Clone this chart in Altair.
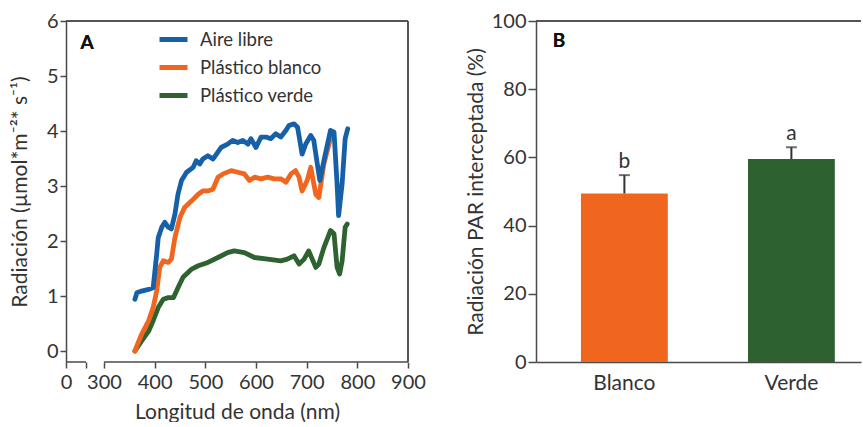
import altair as alt
import pandas as pd

FONT = "Lato"
TXT = "#333333"
AX = "#4a4a4a"

# ---------------- Panel A data ----------------
series_names = ["Aire libre", "Plástico blanco", "Plástico verde"]
series_colors = ["#1660a8", "#f0661f", "#2e6230"]

wl_aire = [361, 365, 374, 388, 397, 404, 407, 414, 420, 427, 433, 440, 446, 453, 463,
           476, 482, 489, 495, 505, 515, 522, 531, 544, 554, 564, 574, 584, 590, 600,
           610, 620, 629, 639, 649, 659, 665, 675, 682, 691, 698, 708, 714, 721, 726,
           734, 747, 754, 760, 763, 770, 776, 781]
rad_aire = [0.94, 1.06, 1.09, 1.12, 1.15, 1.76, 2.06, 2.25, 2.34, 2.25, 2.22, 2.49, 2.85, 3.10, 3.25,
            3.34, 3.46, 3.40, 3.49, 3.55, 3.49, 3.58, 3.70, 3.76, 3.83, 3.79, 3.83, 3.76, 3.86, 3.70,
            3.89, 3.89, 3.86, 3.95, 3.89, 4.01, 4.10, 4.13, 4.07, 3.58, 3.76, 3.92, 3.83, 3.40, 3.10,
            3.46, 4.01, 3.98, 3.04, 2.46, 3.04, 3.86, 4.04]

wl_blanco = [361, 374, 388, 397, 404, 410, 417, 427, 433, 440, 450, 459, 473, 486, 495,
             505, 515, 525, 535, 551, 564, 577, 587, 597, 610, 623, 636, 649, 659, 669,
             678, 685, 691, 701, 708, 718, 724, 734, 748]
rad_blanco = [0.00, 0.30, 0.55, 0.79, 1.09, 1.52, 1.64, 1.61, 1.67, 2.06, 2.43, 2.61, 2.73, 2.85, 2.91,
              2.91, 2.94, 3.16, 3.22, 3.28, 3.25, 3.22, 3.10, 3.16, 3.13, 3.16, 3.13, 3.13, 3.07, 3.22,
              3.28, 3.16, 2.91, 3.10, 3.34, 2.85, 2.79, 3.40, 3.90]

wl_verde = [361, 374, 388, 397, 407, 417, 427, 437, 446, 456, 473, 486, 505, 525, 544,
            557, 577, 597, 623, 649, 662, 675, 685, 695, 704, 718, 724, 734, 747, 754,
            760, 765, 770, 776, 780]
rad_verde = [0.00, 0.18, 0.36, 0.55, 0.79, 0.94, 0.97, 0.97, 1.15, 1.34, 1.49, 1.55, 1.61, 1.70, 1.79,
             1.82, 1.79, 1.70, 1.67, 1.64, 1.67, 1.73, 1.58, 1.67, 1.82, 1.52, 1.58, 1.88, 2.19, 2.13,
             1.52, 1.40, 1.64, 2.25, 2.31]

x_ticks = [0, 158, 300, 400, 500, 600, 700, 800, 900]
y_ticks_a = [0, 1, 2, 3, 4, 5, 6]
axis_segments_start = [0, 300]
axis_segments_end = [158, 900]

# ---------------- Panel B data ----------------
treatments = ["Blanco", "Verde"]
par_values = [49.4, 59.5]
par_errors = [5.4, 3.5]
letters = ["b", "a"]
bar_colors = ["#f0661f", "#2d6130"]
y_ticks_b = [0, 20, 40, 60, 80, 100]

# ---------------- build tables ----------------
def series_df(name, wl, rad):
    return pd.DataFrame({"wl": wl, "rad": rad, "serie": name})

df_a = {
    "Aire libre": series_df("Aire libre", wl_aire, rad_aire),
    "Plástico blanco": series_df("Plástico blanco", wl_blanco, rad_blanco),
    "Plástico verde": series_df("Plástico verde", wl_verde, rad_verde),
}
seg_df = pd.DataFrame({"x0": axis_segments_start, "x1": axis_segments_end})

WA, HA = 342, 341
xscale = alt.Scale(domain=[0, 300, 900], range=[0, 38, WA], nice=False, zero=False)
yscale_a = alt.Scale(domain=[-0.2, 6], nice=False, zero=False)
color_scale = alt.Scale(domain=series_names, range=series_colors)

def line_layer(name, legend):
    return alt.Chart(df_a[name]).mark_line(strokeWidth=4.8, strokeJoin="round", strokeCap="round").encode(
        x=alt.X("wl:Q", scale=xscale,
                axis=alt.Axis(values=x_ticks, domain=False, tickSize=6, tickWidth=1.5, tickColor=AX,
                              labelOverlap=False, labelBound=False, labelFlush=False,
                              labelExpr="datum.value == 158 ? '' : datum.label", labelPadding=4,
                              title="Longitud de onda (nm)", titlePadding=9)),
        y=alt.Y("rad:Q", scale=yscale_a,
                axis=alt.Axis(values=y_ticks_a, format="d", tickSize=6, tickWidth=1.5, domainWidth=1.5,
                              labelPadding=2, title="Radiación (µmol*m⁻²* s⁻¹)", titlePadding=16)),
        color=alt.Color("serie:N", scale=color_scale,
                        legend=alt.Legend(orient="none", legendX=91, legendY=2, title=None,
                                          symbolType="stroke", symbolStrokeWidth=5, symbolSize=784,
                                          labelFontSize=18.5, labelFont=FONT, labelColor=TXT,
                                          labelOffset=10, rowPadding=1) if legend else None),
    )

frame_top = alt.Chart(seg_df).mark_rule(color=AX, strokeWidth=1.5).encode(
    y=alt.datum(6), x=alt.value(0), x2=alt.value(WA))
frame_right = alt.Chart(seg_df).mark_rule(color=AX, strokeWidth=1.5).encode(
    x=alt.datum(900), y=alt.value(0), y2=alt.value(HA))
frame_bottom = alt.Chart(seg_df).mark_rule(color=AX, strokeWidth=1.5).encode(
    x=alt.X("x0:Q", scale=xscale), x2="x1:Q", y=alt.value(HA))
label_a = alt.Chart(seg_df).mark_text(text="A", fontWeight="bold", fontSize=19, font=FONT,
                                      color="#111", align="center", baseline="middle").encode(
    x=alt.value(21), y=alt.value(22))

panel_a = alt.layer(
    line_layer("Plástico verde", True),
    line_layer("Plástico blanco", False),
    line_layer("Aire libre", False),
    frame_top, frame_right, frame_bottom, label_a,
).properties(width=WA, height=HA)

# ---------------- Panel B ----------------
WB, HB = 325, 341
df_b = pd.DataFrame({"trat": treatments, "val": par_values, "err": par_errors,
                     "letra": letters, "col": bar_colors})
df_b["top"] = df_b["val"] + df_b["err"]

xb = alt.X("trat:N", sort=treatments,
           scale=alt.Scale(paddingInner=0.48, paddingOuter=0.213, align=0.632),
           axis=alt.Axis(title=None, labelAngle=0, ticks=False, domainWidth=1.5, labelPadding=10,
                         labelFontSize=21))
yb_scale = alt.Scale(domain=[0, 100], nice=False)

bars = alt.Chart(df_b).mark_bar().encode(
    x=xb,
    y=alt.Y("val:Q", scale=yb_scale,
            axis=alt.Axis(values=y_ticks_b, tickSize=8, tickWidth=1.5, domainWidth=1.5, labelPadding=2,
                          title="Radiación PAR interceptada (%)", titlePadding=5)),
    color=alt.Color("col:N", scale=None),
)
err_rule = alt.Chart(df_b).mark_rule(color="#333", strokeWidth=2).encode(
    x=alt.X("trat:N", sort=treatments), y="val:Q", y2="top:Q")
err_cap = alt.Chart(df_b).mark_tick(color="#333", thickness=2, size=11).encode(
    x=alt.X("trat:N", sort=treatments), y="top:Q")
letter_txt = alt.Chart(df_b).mark_text(fontSize=21, font=FONT, color=TXT, baseline="bottom", dy=-3).encode(
    x=alt.X("trat:N", sort=treatments), y="top:Q", text="letra:N")
top_line = alt.Chart(df_b).mark_rule(color=AX, strokeWidth=1.5).encode(
    y=alt.datum(100), x=alt.value(0), x2=alt.value(WB))
label_b = alt.Chart(df_b).mark_text(text="B", fontWeight="bold", fontSize=19, font=FONT,
                                    color="#111", align="center", baseline="middle").encode(
    x=alt.value(23), y=alt.value(20))

panel_b = alt.layer(bars, err_rule, err_cap, letter_txt, top_line, label_b).properties(width=WB, height=HB)

chart = alt.hconcat(panel_a, panel_b, spacing=39).resolve_scale(color="independent").properties(
    padding={"left": 9, "top": 11, "right": 0, "bottom": 0}, background="white"
).configure_axis(
    labelFont=FONT, titleFont=FONT, labelFontSize=20, titleFontSize=21,
    labelColor=TXT, titleColor=TXT, titleFontWeight="normal",
    domainColor=AX, tickColor=AX, grid=False,
).configure_view(stroke=None)

chart.save("out.html", embed_options={"renderer": "svg", "actions": False})
